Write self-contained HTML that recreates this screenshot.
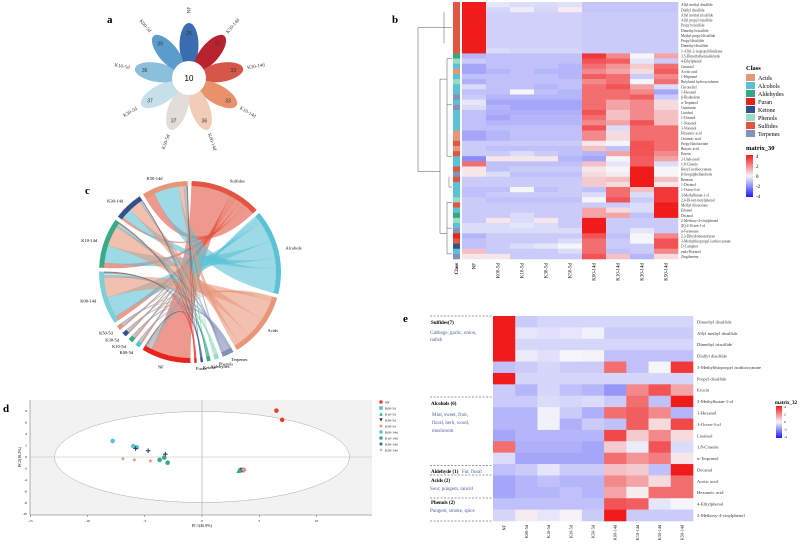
<!DOCTYPE html>
<html><head><meta charset="utf-8"><style>
html,body{margin:0;padding:0;background:#fff;}
svg{display:block;font-family:"Liberation Serif",serif;}
</style></head><body>
<svg id="fig" width="800" height="545" viewBox="0 0 800 545" xmlns="http://www.w3.org/2000/svg">
<g id="pa"></g>
<g id="pb"></g>
<g id="pc"></g>
<g id="pd"></g>
<g id="pe"></g>
</svg>
<script>
const NS="http://www.w3.org/2000/svg";
function mk(parent,tag,attrs,name,txt){const e=document.createElementNS(NS,tag);for(const k in attrs)e.setAttribute(k,attrs[k]);


if(txt!==undefined)e.textContent=txt;parent.appendChild(e);return e;}

// ---------- Panel a data ----------
const flowerLabels=["NF","K50-14d","K30-14d","K10-14d","K00-14d","K50-5d","K30-5d","K10-5d","K00-5d"];
const flowerValues=[26,37,33,33,36,37,37,36,39];
const flowerCore=10;
const flowerColors=["#3a6db0","#b8232f","#d5574a","#e8926c","#f1cdb8","#e3ddd9","#c6e0ea","#8cbfdb","#5b9ccb"];

// ---------- Panel b data ----------
const bCols=["NF","K00-5d","K10-5d","K30-5d","K50-5d","K00-14d","K10-14d","K30-14d","K50-14d"];
const bRows=["Allyl methyl disulfide","Diallyl disulfide","Allyl methyl trisulfide","Allyl propyl trisulfide","Propyl trisulfide","Dimethyl trisulfide","Methyl propyl disulfide","Propyl disulfide","Dimethyl disulfide","1-Allyl-2-isopropyldisulfane","3,5-Dimethylbenzaldehyde","4-Ethylphenol","Geraniol","Acetic acid","1-Heptanol","Butylated hydroxytoluene","Citronellol","1-Hexanol","β-Bisabolene","α-Terpineol","Cuminone","Linalool","1-Octanol","1-Nonanol","3-Nonanol","Hexanoic acid","Octanoic acid","Propyl thiolacetate","Butyric acid","Eruein","2-Undecanol","1,8-Cineole","Hexyl isothiocyanate","β-Sesquiphellandrene","Benzoin","1-Decanol","1-Octen-3-ol","3-Methylbutan-1-ol","2,4-Di-tert-butylphenol","Methyl thioacetate","Ethanol","Decanal","2-Methoxy-4-vinylphenol","(E)-2-Octen-1-ol","α-Farnesene","2,3-Dihydrobenzofuran","3-Methylthiopropyl isothiocyanate","D-Camphor","endo-Borneol","Zingiberene"];
const bClass=["Sulfides","Sulfides","Sulfides","Sulfides","Sulfides","Sulfides","Sulfides","Sulfides","Sulfides","Sulfides","Aldehydes","Phenols","Alcohols","Acids","Alcohols","Phenols","Alcohols","Alcohols","Terpenes","Alcohols","Terpenes","Alcohols","Alcohols","Alcohols","Alcohols","Acids","Acids","Sulfides","Acids","Sulfides","Alcohols","Alcohols","Sulfides","Terpenes","Sulfides","Alcohols","Alcohols","Alcohols","Phenols","Sulfides","Alcohols","Aldehydes","Phenols","Alcohols","Terpenes","Furan","Sulfides","Ketone","Alcohols","Terpenes"];
const bVals=[
[4,-0.3,-0.5,-0.5,-0.4,-0.9,-0.9,-0.9,-0.9],[4,-0.6,-0.2,-0.6,0.2,-0.9,-0.9,-0.9,-0.9],[4,-0.7,-0.7,-0.7,-0.7,-0.8,-0.8,-0.8,-0.8],[4,-0.7,-0.7,-0.7,-0.7,-0.8,-0.8,-0.8,-0.8],[4,-0.7,-0.7,-0.7,-0.7,-0.8,-0.8,-0.8,-0.8],[4,-0.7,-0.7,-0.7,-0.7,-0.8,-0.8,-0.8,-0.8],[4,-0.7,-0.7,-0.7,-0.7,-0.8,-0.8,-0.8,-0.8],[4,-0.7,-0.7,-0.7,-0.7,-0.8,-0.8,-0.8,-0.8],[4,-0.7,-0.7,-0.7,-0.7,-0.8,-0.8,-0.8,-0.8],[4,-0.5,-0.6,-0.6,-0.6,-0.8,-0.8,-0.8,-0.8],
[-1.2,-1,-1,-1,-1,3.5,2,0,1.5],[-0.8,-1,-1,-1,-1,3,2.8,-0.3,-0.8],[-1.5,-1,-1,-1,-1.2,2.5,1.8,0.8,2.5],[-1.5,-1.2,-1,-1.2,-1.2,2,1.5,0.5,2.8],[-1,-1,-1,-1,-1.2,2.8,2.5,-0.8,2],[-1.3,-1,-1,-1,-1,2,2.5,0,2.5],[-0.5,-1,-1,-1.2,-1,2.5,3,1.5,-0.5],[-1,-1,0,-1,-1.2,2.5,2.5,2,-1.5],[-0.8,-1.2,-1.2,-1.2,-1.2,2.5,2.5,2.8,-0.8],[-0.3,-1.5,-1.5,-1.5,-1.5,2.5,1.5,2,0.5],
[-0.5,-1.2,-1.5,-1.5,-1.5,2.5,1.5,2,0.5],[-1,-1.3,-1.3,-1.3,-1.3,3,1,2,1],[-1,-1.5,-1.2,-1.2,-1.2,2.5,1,2,1],[-1,-1.2,-1.2,-1.2,-1.2,2,1.5,3,1],[-1,-1,-1,-1,-1,3,-0.5,2.5,2.5],[-1.5,-1.2,-1,-1,-1,2,0.5,2.5,2.5],[-1.5,-1.2,-1,-1,-1,2,0.5,2.5,2.5],[-0.8,-0.8,-0.8,-0.8,-0.8,0.3,0,3,2.5],[-0.8,-1,-1,-1,-1,1,-1,3,2.5],[-0.8,-0.8,-0.5,-0.8,-1,-1.2,1.5,3,2],
[-2,0.3,0.3,0.3,-1.2,-1.5,0,2.8,1.5],[2.5,-1,-1,-1,-1,1,-0.3,2.8,-0.5],[0.3,-1,-0.8,-0.8,-0.8,0.3,0,4,0],[0.3,-0.5,-1,-1,-1,0.5,0.2,4,0],[-0.8,-0.8,-0.8,-0.8,-0.8,0.8,1,4,1],[-0.8,-0.8,-0.8,-0.8,-0.8,0.8,0.5,4,0.3],[-1,-1,0,-1,-0.8,-1,2.5,1,3.5],[-1,-0.8,-0.8,-0.8,-0.8,-0.5,2.5,-0.5,3.5],[-0.8,-1,-1,-1,-1,0,3,-0.8,3.5],[-0.8,-0.8,-0.8,-0.8,-0.8,-0.8,-0.8,-0.5,4],
[-0.8,-0.8,-0.8,-0.8,-0.8,1.5,0.5,-0.5,4],[-0.8,-0.8,-0.5,-0.8,-0.8,1.5,1.5,-1,4],[-0.8,0.3,-0.5,0.3,-0.8,4,-0.8,-0.8,-0.8],[-0.5,-0.5,-0.3,-0.5,-0.8,4,-0.8,-0.8,-0.8],[-0.5,-0.5,-0.5,-0.5,-0.5,4,-0.8,-0.3,-0.8],[-1.2,-0.8,-0.8,-0.8,-0.8,3,-1,0,2],[-1,-0.8,-0.8,-0.8,-0.5,2.5,-0.8,0,3],[-1,-0.8,-0.5,-0.3,0,2.5,-0.8,-0.8,3],[1,-0.8,-0.8,-0.8,-0.5,2.5,-1,-0.8,2],[0.3,0.3,-0.8,-0.8,-0.8,3,1,-1.2,0.5]];
const classNames=["Acids","Alcohols","Aldehydes","Furan","Ketone","Phenols","Sulfides","Terpenes"];
const classColors={Acids:"#e8967a",Alcohols:"#5bc1d6",Aldehydes:"#3aa582",Furan:"#e8231e",Ketone:"#34508a",Phenols:"#9adbc5",Sulfides:"#e25542",Terpenes:"#8491b8"};
const scaleTicks=["4","2","0","-2","-4"];

// ---------- Panel c data ----------
const chordClasses=["Sulfides","Alcohols","Acids","Terpenes","Phenols","Aldehydes","Ketone","Furan"];
const chordSamples=["NF","K00-5d","K10-5d","K30-5d","K50-5d","K00-14d","K10-14d","K30-14d","K50-14d"];
const chordSampleColors=["#e8231e","#5bc1d6","#3aaa85","#34508a","#e8967a","#7fcfd9","#3aaa85","#34508a","#e8967a"];
const flowNF=[8,0.5,0.3,0.2,0.1,0.1,0.1,0.1];
const flowK00_5=[0.3,0.3,0.2,0.1,0,0,0,0];
const flowK10_5=[0.3,0.3,0.2,0.1,0,0,0,0];
const flowK30_5=[0.3,0.3,0.2,0.1,0,0,0,0];
const flowK50_5=[0.3,0.3,0.2,0.1,0,0,0,0];
const flowK00_14=[1,4,4,0.5,0.3,0.2,0.1,0.1];
const flowK10_14=[1,3.5,4,0.5,0.2,0.2,0.1,0.1];
const flowK30_14=[0.5,2,2.5,0.3,0.1,0.1,0.05,0.05];
const flowK50_14=[2,5,1,0.3,0.2,0.1,0.1,0.1];
const flows=[flowNF,flowK00_5,flowK10_5,flowK30_5,flowK50_5,flowK00_14,flowK10_14,flowK30_14,flowK50_14];

// ---------- Panel d data ----------
const pcaGroups=["NF","K00-5d","K10-5d","K30-5d","K50-5d","K00-14d","K10-14d","K30-14d","K50-14d"];
const pcaColors=["#e8412e","#5bc1d6","#3aaa85","#2e3f7a","#e8967a","#5bc1d6","#3aaa85","#2e3f7a","#e8967a"];
const pcaShapes=["circle","square","triangle","tri-down","diamond","circle","circle","cross","star"];
const pcaX=[[6.5,7.0],[3.4,3.5],[3.3,3.2],[3.5,3.6],[3.7,3.6],[-7.8,-6.0,-5.7],[-3.7,-3.3,-3.0],[-5.8,-4.7,-3.2],[-6.9,-5.9,-4.5]];
const pcaY=[[8.1,6.5],[-2.3,-2.3],[-2.3,-2.4],[-2.3,-2.3],[-2.3,-2.2],[2.8,1.9,1.7],[-0.5,-0.1,-1.0],[1.5,1.1,0.5],[-0.3,-0.5,-0.7]];
const pcaXTicks=[-15,-10,-5,0,5,10];
const pcaYTicks=[8,6,4,2,0,-2,-4,-6,-8,-10];

// ---------- Panel e data ----------
const eCols=["NF","K00-5d","K10-5d","K30-5d","K50-5d","K00-14d","K10-14d","K30-14d","K50-14d"];
const eRows=["Dimethyl disulfide","Allyl methyl disulfide","Dimethyl trisulfide","Diallyl disulfide","3-Methylthiopropyl isothiocyanate","Propyl disulfide","Erucin","3-Methylbutan-1-ol","1-Hexanol","1-Octen-3-ol","Linalool","1,8-Cineole","α-Terpineol","Decanal","Acetic acid","Hexanoic acid","4-Ethylphenol","2-Methoxy-4-vinylphenol"];
const eVals=[[4,-0.8,-0.6,-0.6,-0.6,-0.6,-0.6,-0.6,-0.6],[4,-0.3,-0.4,-0.3,-0.1,-0.8,-0.8,-0.8,-0.8],[4,-0.6,-0.6,-0.6,-0.6,-0.6,-0.6,-0.6,-0.6],[4,-0.2,-0.4,0,0.1,-1,-1,-1,-1],[-1,-0.8,-0.6,-0.8,-0.8,2.5,-1,0,3.5],[4.5,-0.6,-0.6,-0.6,-0.6,-0.6,-0.6,-0.6,-0.6],[-0.8,-1.2,-0.6,-1,-1.2,-1.8,2,3,1.5],[-0.8,-0.8,-0.5,-0.6,-0.5,-0.8,2.5,-1,4],[-1.2,-1.2,-0.1,-0.8,-1.3,2.5,2.8,2,-1.2],[-1.2,-1.2,-0.1,-1.3,-0.8,-1,2.8,0.5,3.2],[-1.5,-1.2,-1.2,-1.2,-1.2,3.2,0.8,2,0.5],[2.5,-1.3,-1.3,-1.3,-1.5,0.8,-0.2,3,-0.5],[-0.5,-1.5,-1.5,-1.5,-1.5,2.5,1.8,2.2,0.3],[-1,-0.8,-0.3,-0.8,-0.8,1,0.8,-1,4],[-1.5,-1.2,-1,-1.2,-1.2,2,1.5,0.5,2.5],[-1.5,-1.2,-1.2,-1,-1.2,1.5,0.2,2.5,2.5],[-1,-1,-1,-1,-1,3,2.8,-0.3,0],[-0.6,0.2,-0.3,0.05,-0.8,4.5,-0.8,-0.8,-0.8]];

function heat(v){v=Math.max(-4,Math.min(4,v));const w=[246,246,250];let c;
 if(v>=0){const t=v/4;c=[w[0]+(240-w[0])*t,w[1]+(28-w[1])*t,w[2]+(28-w[2])*t];}
 else{const t=-v/4;c=[w[0]+(30-w[0])*t,w[1]+(30-w[1])*t,w[2]+(250-w[2])*t];}
 return `rgb(${c.map(Math.round).join(',')})`;}

// ===== Panel a =====
(function(){const g=document.getElementById('pa');const cx=189,cy=78;
mk(g,'text',{x:107,y:23,'font-size':11,'font-weight':'bold'},'panel-a-letter','a');
flowerLabels.forEach((lab,i)=>{const ang=i*360/flowerLabels.length;
 const pg=mk(g,'g',{transform:`rotate(${ang} ${cx} ${cy})`},'petal-'+lab.toLowerCase());
 mk(pg,'ellipse',{cx:cx,cy:cy-33,rx:9.5,ry:22,fill:flowerColors[i]},'petal-shape');
 mk(pg,'text',{x:cx,y:cy-43,'font-size':5,'text-anchor':'middle','font-family':'Liberation Sans',fill:'#333',transform:`rotate(${-ang} ${cx} ${cy-45})`},'petal-count',flowerValues[i]);
 const rad=ang*Math.PI/180, lx=cx+68*Math.sin(rad), ly=cy-68*Math.cos(rad);
 let rot=ang-90; if(ang>180) rot=ang+90;
 mk(g,'text',{x:lx,y:ly+1.5,'font-size':5,'text-anchor':'middle',fill:'#333',transform:`rotate(${rot} ${lx} ${ly})`},'petal-label',lab);
});
mk(g,'circle',{cx:cx,cy:cy,r:17,fill:'#fff'},'flower-core');
mk(g,'text',{x:cx,y:cy+3,'font-size':8,'text-anchor':'middle','font-family':'Liberation Sans'},'core-count',flowerCore);
})();

// ===== Panel b =====
(function(){const g=document.getElementById('pb');
mk(g,'text',{x:392,y:23,'font-size':11,'font-weight':'bold'},'panel-b-letter','b');
const x0=462,x1=678,y0=2,y1=259,cw=(x1-x0)/bCols.length,rh=(y1-y0)/bRows.length;
bRows.forEach((r,i)=>{bVals[i].forEach((v,j)=>{
 mk(g,'rect',{x:x0+j*cw,y:y0+i*rh,width:cw+0.3,height:rh+0.3,fill:heat(v)},'heat-cell');});
 mk(g,'rect',{x:453,y:y0+i*rh,width:7,height:rh+0.3,fill:classColors[bClass[i]]},'class-cell');
 mk(g,'text',{x:681,y:y0+i*rh+rh*0.8,'font-size':3.6,fill:'#333'},'row-label',r);
});
bCols.forEach((c,j)=>{const x=x0+j*cw+cw/2+1.5;
 mk(g,'text',{x:x,y:263,'font-size':5,'text-anchor':'end',transform:`rotate(-90 ${x} 263)`},'col-label',c);});
mk(g,'text',{x:458,y:263,'font-size':5,'font-weight':'bold','text-anchor':'end',transform:'rotate(-90 458 263)'},'class-col-label','Class');
// dendrogram
const d=mk(g,'g',{stroke:'#555','stroke-width':0.5,fill:'none'},'row-dendrogram');
mk(d,'path',{d:`M452 ${y0+5*rh} H444 M444 ${y0+2*rh} V${y0+8*rh} M444 ${y0+5*rh} H418 M418 ${y0+5*rh} V${y0+33*rh} M418 ${y0+33*rh} H440 M440 ${y0+15*rh} V${y0+45*rh} M440 ${y0+15*rh} H447 M440 ${y0+45*rh} H447 M447 ${y0+11*rh} V${y0+30*rh} M447 ${y0+39*rh} V${y0+49*rh} M447 ${y0+11*rh} H452 M447 ${y0+20*rh} H452 M447 ${y0+30*rh} H452 M447 ${y0+39*rh} H452 M447 ${y0+44*rh} H452 M447 ${y0+49*rh} H452 M449 ${y0+34*rh} V${y0+36*rh} H452`},'dendro-lines');
// legend
mk(g,'text',{x:746,y:70,'font-size':6.5,'font-weight':'bold'},'class-legend-title','Class');
classNames.forEach((c,i)=>{mk(g,'rect',{x:746,y:74+i*8,width:9,height:7,fill:classColors[c]},'legend-swatch');
 mk(g,'text',{x:758,y:80+i*8,'font-size':6},'legend-label',c);});
mk(g,'text',{x:746,y:150,'font-size':6.5,'font-weight':'bold'},'scale-title','matrix_30');
const lg=mk(g,'defs',{},'defs');const gr=mk(lg,'linearGradient',{id:'gb',x1:0,y1:0,x2:0,y2:1},'grad');
[4,2,0,-2,-4].forEach((v,i)=>mk(gr,'stop',{offset:i/4,'stop-color':heat(v)},'stop'));
mk(g,'rect',{x:746,y:155,width:7,height:42,fill:'url(#gb)'},'color-bar');
scaleTicks.forEach((t,i)=>mk(g,'text',{x:756,y:158+i*10,'font-size':5},'scale-tick',t));
})();

// ===== Panel c =====
(function(){const g=document.getElementById('pc');const cx=190,cy=272,R=86,W=5;
mk(g,'text',{x:85,y:194,'font-size':11,'font-weight':'bold'},'panel-c-letter','c');
const nC=chordClasses.length,nS=chordSamples.length;
const cTot=chordClasses.map((_,k)=>flows.reduce((s,r)=>s+r[k],0));
const sTot=flows.map(r=>r.reduce((a,b)=>a+b,0));
const total=cTot.reduce((a,b)=>a+b,0)*2;const gap=2.5,nseg=nC+nS;
const unit=(360-gap*nseg)/total;
function pt(a,r){const t=(a-90)*Math.PI/180;return [cx+r*Math.cos(t),cy+r*Math.sin(t)];}
function arc(a0,a1,r0,r1){const p0=pt(a0,r1),p1=pt(a1,r1),p2=pt(a1,r0),p3=pt(a0,r0),l=(a1-a0)>180?1:0;
 return `M${p0} A${r1} ${r1} 0 ${l} 1 ${p1} L${p2} A${r0} ${r0} 0 ${l} 0 ${p3}Z`;}
let a=1;const cStart=[],sStart=[];
chordClasses.forEach((c,k)=>{cStart[k]=a;const e=a+cTot[k]*unit;
 mk(g,'path',{d:arc(a,e,R,R+W),fill:classColors[c]},'segment-'+c.toLowerCase());
 const m=(a+e)/2,p=pt(m,R+12);
 mk(g,'text',{x:p[0],y:p[1],'font-size':4.5,'text-anchor':m>180?'end':'start'},'segment-label',c);a=e+gap;});
chordSamples.forEach((s,k)=>{sStart[k]=a;const e=a+sTot[k]*unit;
 mk(g,'path',{d:arc(a,e,R,R+W),fill:chordSampleColors[k]},'segment-'+s.toLowerCase());
 const m=(a+e)/2,p=pt(m,R+12);
 mk(g,'text',{x:p[0],y:p[1]+2,'font-size':4.5,'text-anchor':m>180?'end':'start'},'segment-label',s);a=e+gap;});
const cPos=cStart.slice(),sPos=sStart.slice();
flows.forEach((row,i)=>row.forEach((v,k)=>{if(v<=0)return;const w=v*unit;
 const s0=sPos[i],s1=s0+w;sPos[i]=s1;const c0=cPos[k],c1=c0+w;cPos[k]=c1;
 const A=pt(s0,R),B=pt(s1,R),C=pt(c0,R),D=pt(c1,R);
 const d=`M${A} A${R} ${R} 0 0 1 ${B} Q${cx} ${cy} ${C} A${R} ${R} 0 0 1 ${D} Q${cx} ${cy} ${A}Z`;
 mk(g,'path',{d:d,fill:classColors[chordClasses[k]],'fill-opacity':0.6,stroke:classColors[chordClasses[k]],'stroke-opacity':0.4,'stroke-width':0.3},'ribbon');}));
})();

// ===== Panel d =====
(function(){const g=document.getElementById('pd');
const X=v=>202+v*11.45, Y=v=>457-v*5.72;
mk(g,'text',{x:3,y:412,'font-size':11,'font-weight':'bold'},'panel-d-letter','d');
mk(g,'rect',{x:30,y:400,width:342,height:115,fill:'#f2f2f2'},'plot-background');
mk(g,'ellipse',{cx:X(0),cy:Y(0),rx:147.5,ry:45.5,fill:'#fff',stroke:'#aaa','stroke-width':0.5},'confidence-ellipse');
mk(g,'line',{x1:30,x2:372,y1:Y(0),y2:Y(0),stroke:'#bbb','stroke-width':0.6},'zero-h');
mk(g,'line',{x1:X(0),x2:X(0),y1:400,y2:515,stroke:'#bbb','stroke-width':0.8},'zero-v');
mk(g,'line',{x1:30,x2:372,y1:515,y2:515,stroke:'#666','stroke-width':0.5},'x-axis');
mk(g,'line',{x1:30,x2:30,y1:400,y2:515,stroke:'#666','stroke-width':0.5},'y-axis');
pcaXTicks.forEach(t=>{mk(g,'line',{x1:X(t),x2:X(t),y1:515,y2:517,stroke:'#666','stroke-width':0.5},'x-tick');
 mk(g,'text',{x:X(t),y:522,'font-size':3.5,'text-anchor':'middle'},'x-tick-label',t);});
pcaYTicks.forEach(t=>{mk(g,'text',{x:27,y:Y(t)+1,'font-size':3.5,'text-anchor':'end'},'y-tick-label',t);});
mk(g,'text',{x:202,y:527,'font-size':4,'text-anchor':'middle'},'x-axis-title','PC1(46.9%)');
mk(g,'text',{x:21,y:457,'font-size':4,'text-anchor':'middle',transform:'rotate(-90 21 457)'},'y-axis-title','PC2(16.2%)');
function shape(p,s,x,y,c,r){
 if(s==='circle')return mk(p,'circle',{cx:x,cy:y,r:r,fill:c},'pca-point');
 if(s==='square')return mk(p,'rect',{x:x-r,y:y-r,width:2*r,height:2*r,fill:c},'pca-point');
 if(s==='triangle')return mk(p,'polygon',{points:`${x},${y-r} ${x+r},${y+r} ${x-r},${y+r}`,fill:c},'pca-point');
 if(s==='tri-down')return mk(p,'polygon',{points:`${x-r},${y-r} ${x+r},${y-r} ${x},${y+r}`,fill:c},'pca-point');
 if(s==='diamond')return mk(p,'polygon',{points:`${x},${y-r} ${x+r},${y} ${x},${y+r} ${x-r},${y}`,fill:c},'pca-point');
 if(s==='cross')return mk(p,'path',{d:`M${x-r} ${y}H${x+r}M${x} ${y-r}V${y+r}`,stroke:c,'stroke-width':1.1},'pca-point');
 const pts=[];for(let i=0;i<10;i++){const rr=i%2?r*0.45:r,t=(i*36-90)*Math.PI/180;pts.push(`${x+rr*Math.cos(t)},${y+rr*Math.sin(t)}`);}
 return mk(p,'polygon',{points:pts.join(' '),fill:c},'pca-point');}
pcaGroups.forEach((gname,i)=>{pcaX[i].forEach((xv,j)=>shape(g,pcaShapes[i],X(xv),Y(pcaY[i][j]),pcaColors[i],2.3));
 shape(g,pcaShapes[i],381,402+i*6,pcaColors[i],1.8);
 mk(g,'text',{x:385,y:403.5+i*6,'font-size':3.5},'pca-legend-label',gname);});
})();

// ===== Panel e =====
(function(){const g=document.getElementById('pe');
mk(g,'text',{x:403,y:322,'font-size':11,'font-weight':'bold'},'panel-e-letter','e');
const x0=493,x1=693,y0=316,y1=521,cw=(x1-x0)/eCols.length,rh=(y1-y0)/eRows.length;
eRows.forEach((r,i)=>{eVals[i].forEach((v,j)=>mk(g,'rect',{x:x0+j*cw,y:y0+i*rh,width:cw+0.3,height:rh+0.3,fill:heat(v)},'heat-cell'));
 mk(g,'text',{x:697,y:y0+i*rh+rh/2+1.7,'font-size':4.6,fill:'#333'},'row-label',r);});
eCols.forEach((c,j)=>{const x=x0+j*cw+cw/2+1.5;
 mk(g,'text',{x:x,y:525,'font-size':4.3,'text-anchor':'end',transform:`rotate(-90 ${x} 525)`},'col-label',c);});
[316,397,465.5,475,498,521].forEach(y=>mk(g,'line',{x1:430,x2:493,y1:y,y2:y,stroke:'#333','stroke-width':0.6,'stroke-dasharray':'2,1.5'},'group-divider'));
const B=(x,y,t)=>mk(g,'text',{x:x,y:y,'font-size':5,'font-weight':'bold'},'group-title',t);
const D=(x,y,t)=>mk(g,'text',{x:x,y:y,'font-size':5,fill:'#4a5f9e'},'group-description',t);
B(431,324,'Sulfides(7)');D(430,334,'Cabbage, garlic, onion,');D(430,341,'radish');
B(431,405,'Alcohols (6)');D(432,416,'Mint, sweet, fruit,');D(432,424,'floral, herb, wood,');D(432,432,'mushroom');
B(431,473,'Aldehyde (1)');D(462,473,'Fat, floral');
B(431,482,'Acids (2)');D(430,490,'Sour, pungent, rancid');
B(431,504,'Phenols (2)');D(430,512,'Pungent, smoke, spice');
mk(g,'text',{x:775,y:404,'font-size':5,'font-weight':'bold'},'scale-title','matrix_32');
const lg=mk(g,'defs',{},'defs');const gr=mk(lg,'linearGradient',{id:'ge',x1:0,y1:0,x2:0,y2:1},'grad');
[4,2,0,-2,-4].forEach((v,i)=>mk(gr,'stop',{offset:i/4,'stop-color':heat(v)},'stop'));
mk(g,'rect',{x:776,y:406,width:6,height:32,fill:'url(#ge)'},'color-bar');
scaleTicks.forEach((t,i)=>mk(g,'text',{x:784,y:408+i*7.5,'font-size':3.5},'scale-tick',t));
})();
</script>
</body></html>
